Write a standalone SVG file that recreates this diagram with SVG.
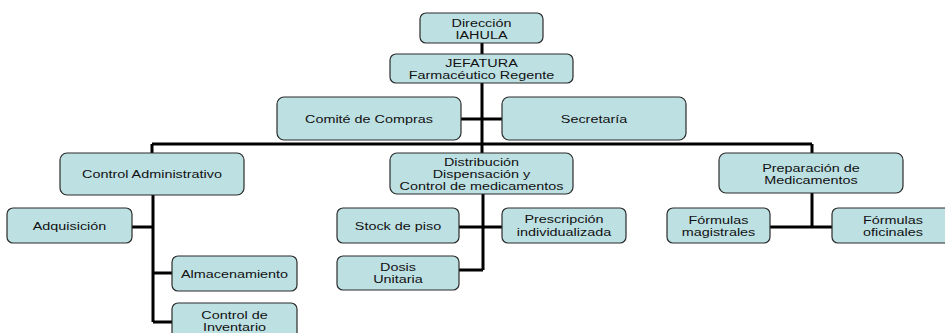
<svg xmlns="http://www.w3.org/2000/svg" width="945" height="333" viewBox="0 0 945 333">
<style>
.box{fill:#BDE0E3;stroke:#2b2b2b;stroke-width:1.2}
.t{font-family:"Liberation Sans",Arial,sans-serif;font-size:11px;fill:#111;text-anchor:middle}
.c{stroke:#000;stroke-width:3;fill:none}
</style>
<rect width="945" height="333" fill="#fff"/>
<g id="connectors">
<path class="c" d="M482 43V54M482 83V153M461 119H502M152 144H812M152 144V153M812 144V153"/>
<path class="c" d="M153 195V322M132 227H153M153 273H172M153 322H172"/>
<path class="c" d="M483 194V270M459 227H502M459 270H483"/>
<path class="c" d="M812 193V227M770 227H832"/>
</g>
<g id="direccion"><rect class="box" x="420" y="13" width="123" height="30" rx="6"/>
<text class="t" transform="translate(481.5,27) scale(1.31,1)">Dirección</text>
<text class="t" transform="translate(481.5,38.5) scale(1.31,1)">IAHULA</text></g>
<g id="jefatura"><rect class="box" x="390" y="54" width="183" height="29" rx="6"/>
<text class="t" transform="translate(481.5,67) scale(1.31,1)">JEFATURA</text>
<text class="t" transform="translate(481.5,79) scale(1.31,1)">Farmacéutico Regente</text></g>
<g id="comite"><rect class="box" x="277" y="97" width="184" height="43" rx="7"/>
<text class="t" transform="translate(369,122.5) scale(1.31,1)">Comité de Compras</text></g>
<g id="secretaria"><rect class="box" x="502" y="97" width="184" height="43" rx="7"/>
<text class="t" transform="translate(594,122.5) scale(1.31,1)">Secretaría</text></g>
<g id="control-administrativo"><rect class="box" x="60" y="153" width="184" height="42" rx="7"/>
<text class="t" transform="translate(152,178) scale(1.31,1)">Control Administrativo</text></g>
<g id="distribucion"><rect class="box" x="390" y="153" width="183" height="41" rx="7"/>
<text class="t" transform="translate(481.5,166) scale(1.31,1)">Distribución</text>
<text class="t" transform="translate(481.5,177.5) scale(1.31,1)">Dispensación y</text>
<text class="t" transform="translate(481.5,189.5) scale(1.31,1)">Control de medicamentos</text></g>
<g id="preparacion"><rect class="box" x="719" y="153" width="184" height="40" rx="7"/>
<text class="t" transform="translate(811,171.5) scale(1.31,1)">Preparación de</text>
<text class="t" transform="translate(811,183.5) scale(1.31,1)">Medicamentos</text></g>
<g id="adquisicion"><rect class="box" x="7" y="208" width="125" height="35" rx="6"/>
<text class="t" transform="translate(69.5,229.5) scale(1.31,1)">Adquisición</text></g>
<g id="almacenamiento"><rect class="box" x="172" y="256" width="125" height="35" rx="6"/>
<text class="t" transform="translate(234.5,277.5) scale(1.31,1)">Almacenamiento</text></g>
<g id="control-inventario"><rect class="box" x="172" y="303" width="125" height="36" rx="6"/>
<text class="t" transform="translate(234.5,319) scale(1.31,1)">Control de</text>
<text class="t" transform="translate(234.5,331) scale(1.31,1)">Inventario</text></g>
<g id="stock"><rect class="box" x="337" y="208" width="122" height="35" rx="6"/>
<text class="t" transform="translate(398,230) scale(1.31,1)">Stock de piso</text></g>
<g id="prescripcion"><rect class="box" x="502" y="208" width="124" height="35" rx="6"/>
<text class="t" transform="translate(564,223) scale(1.31,1)">Prescripción</text>
<text class="t" transform="translate(564,235.5) scale(1.31,1)">individualizada</text></g>
<g id="dosis"><rect class="box" x="337" y="256" width="122" height="34" rx="6"/>
<text class="t" transform="translate(398,271) scale(1.31,1)">Dosis</text>
<text class="t" transform="translate(398,283) scale(1.31,1)">Unitaria</text></g>
<g id="formulas-magistrales"><rect class="box" x="667" y="208" width="103" height="35" rx="6"/>
<text class="t" transform="translate(718.5,223.5) scale(1.31,1)">Fórmulas</text>
<text class="t" transform="translate(718.5,235.5) scale(1.31,1)">magistrales</text></g>
<g id="formulas-oficinales"><rect class="box" x="832" y="208" width="122" height="35" rx="6"/>
<text class="t" transform="translate(893,223.5) scale(1.31,1)">Fórmulas</text>
<text class="t" transform="translate(893,235.5) scale(1.31,1)">oficinales</text></g>
</svg>
